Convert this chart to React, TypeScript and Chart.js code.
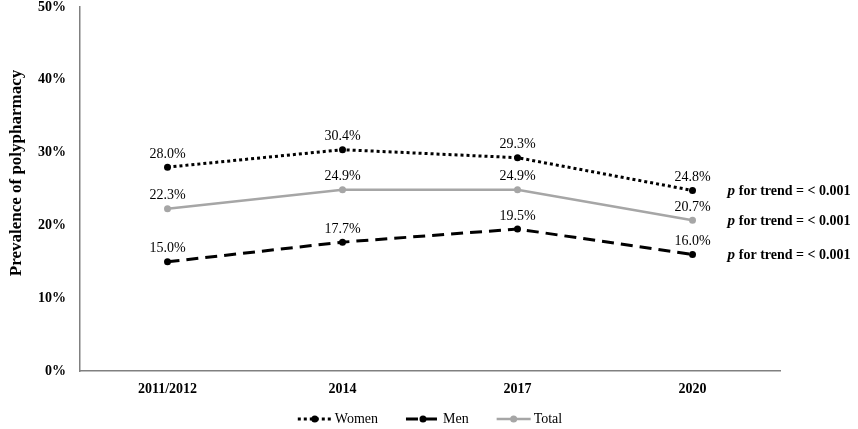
import React, { useEffect, useRef } from "react";
import Chart from "chart.js/auto";

const years = ["2011/2012", "2014", "2017", "2020"];
const women = [28.0, 30.4, 29.3, 24.8];
const men = [15.0, 17.7, 19.5, 16.0];
const total = [22.3, 24.9, 24.9, 20.7];
const trendLabel = "for trend = < 0.001";
const yTitle = "Prevalence of polypharmacy";

const SERIF = "'Liberation Serif', 'Times New Roman', serif";
const GRAY = "#a6a6a6";

// value labels, p-trend notes, y title and legend drawn on the canvas
const extrasPlugin = {
    id: "extras",
    afterDatasetsDraw(chart: any) {
        const ctx = chart.ctx;
        const area = chart.chartArea;
        ctx.save();

        // value labels above each point
        ctx.font = `14px ${SERIF}`;
        ctx.fillStyle = "#000";
        ctx.textAlign = "center";
        ctx.textBaseline = "bottom";
        chart.data.datasets.forEach((ds: any, i: number) => {
            const meta = chart.getDatasetMeta(i);
            meta.data.forEach((pt: any, j: number) => {
                ctx.fillText(ds.data[j].toFixed(1) + "%", pt.x, pt.y - 6);
            });
        });

        // p for trend notes next to the last points
        ctx.textAlign = "left";
        ctx.textBaseline = "middle";
        chart.data.datasets.forEach((_ds: any, i: number) => {
            const meta = chart.getDatasetMeta(i);
            const last = meta.data[meta.data.length - 1];
            const x = last.x + 35;
            ctx.font = `italic bold 15px ${SERIF}`;
            ctx.fillText("p", x, last.y + 1);
            const w = ctx.measureText("p ").width;
            ctx.font = `bold 14px ${SERIF}`;
            ctx.fillText(trendLabel, x + w, last.y + 1);
        });

        // y axis title
        ctx.save();
        ctx.translate(17, (area.top + area.bottom) / 2 - 16);
        ctx.rotate(-Math.PI / 2);
        ctx.font = `bold 17px ${SERIF}`;
        ctx.textAlign = "center";
        ctx.fillText(yTitle, 0, 0);
        ctx.restore();

        // legend
        const items = chart.data.datasets.map((ds: any) => ({
            label: ds.label,
            color: ds.borderColor,
            dash: ds.borderDash || [],
            width: ds.borderWidth,
        }));
        ctx.font = `14px ${SERIF}`;
        const lineLen = 34;
        const gap = 3;
        const itemGap = 28;
        let totalW = 0;
        items.forEach((it: any, k: number) => {
            totalW += lineLen + gap + ctx.measureText(it.label).width + (k < items.length - 1 ? itemGap : 0);
        });
        let x = (area.left + area.right) / 2 - totalW / 2;
        const y = 419;
        items.forEach((it: any) => {
            ctx.strokeStyle = it.color;
            ctx.lineWidth = it.width;
            ctx.setLineDash(it.dash);
            ctx.beginPath();
            ctx.moveTo(x, y);
            ctx.lineTo(x + lineLen, y);
            ctx.stroke();
            ctx.setLineDash([]);
            ctx.fillStyle = it.color;
            ctx.beginPath();
            ctx.arc(x + lineLen / 2, y, 3.5, 0, Math.PI * 2);
            ctx.fill();
            ctx.fillStyle = "#000";
            ctx.textAlign = "left";
            ctx.fillText(it.label, x + lineLen + gap, y);
            x += lineLen + gap + ctx.measureText(it.label).width + itemGap;
        });

        ctx.restore();
    },
};

const App: React.FC = () => {
    const chartRef = useRef<HTMLCanvasElement | null>(null);
    const chartInstance = useRef<Chart | null>(null);

    useEffect(() => {
        document.body.style.margin = "0";
        if (chartInstance.current) {
            chartInstance.current.destroy();
        }
        const ctx = chartRef.current?.getContext("2d");
        if (!ctx) return;

        chartInstance.current = new Chart(ctx, {
            type: "line",
            data: {
                labels: years,
                datasets: [
                    {
                        label: "Women",
                        data: women,
                        borderColor: "#000",
                        backgroundColor: "#000",
                        borderWidth: 3,
                        borderDash: [3, 3],
                        pointRadius: 3.5,
                        pointBorderWidth: 0,
                    },
                    {
                        label: "Men",
                        data: men,
                        borderColor: "#000",
                        backgroundColor: "#000",
                        borderWidth: 3,
                        borderDash: [12, 7],
                        pointRadius: 3.5,
                        pointBorderWidth: 0,
                    },
                    {
                        label: "Total",
                        data: total,
                        borderColor: GRAY,
                        backgroundColor: GRAY,
                        borderWidth: 2.5,
                        pointRadius: 3.5,
                        pointBorderWidth: 0,
                    },
                ],
            },
            options: {
                responsive: false,
                animation: false,
                layout: { padding: { top: 7, right: 78, left: 0, bottom: 0 } },
                plugins: {
                    legend: { display: false },
                    tooltip: { enabled: false },
                },
                scales: {
                    x: {
                        offset: true,
                        grid: { display: false, drawTicks: false },
                        border: { display: true, color: "#808080", width: 1.5 },
                        ticks: {
                            color: "#000",
                            padding: 10,
                            font: { family: SERIF, size: 14, weight: "bold" },
                        },
                        afterFit: (scale: any) => {
                            scale.height = 58;
                            scale.paddingLeft = 0;
                            scale.paddingRight = 0;
                        },
                    },
                    y: {
                        min: 0,
                        max: 50,
                        grid: { display: false, drawTicks: false },
                        border: { display: true, color: "#808080", width: 1.5 },
                        ticks: {
                            stepSize: 10,
                            color: "#000",
                            padding: 14,
                            font: { family: SERIF, size: 14, weight: "bold" },
                            callback: (v: any) => v + "%",
                        },
                        afterFit: (scale: any) => {
                            scale.width = 80;
                            scale.paddingTop = 0;
                            scale.paddingBottom = 0;
                        },
                    },
                },
            },
            plugins: [extrasPlugin],
        });

        return () => {
            if (chartInstance.current) {
                chartInstance.current.destroy();
                chartInstance.current = null;
            }
        };
    }, []);

    return (
        <div style={{ width: 858, height: 429, background: "#fff" }}>
            <canvas ref={chartRef} width={858} height={429}></canvas>
        </div>
    );
};

export default App;
